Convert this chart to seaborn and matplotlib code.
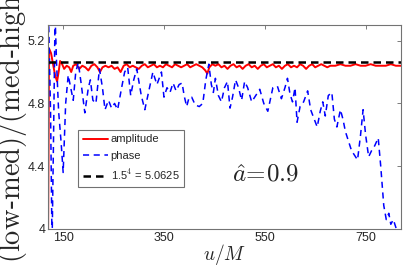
import matplotlib
matplotlib.use('Agg')
import matplotlib.pyplot as plt
import seaborn as sns
import pandas as pd
import numpy as np

# amplitude ratio (red, solid)
amp_u = [120, 122, 126, 130, 134, 138, 141, 144, 148, 152, 157, 162, 166, 170, 176, 182, 188, 194, 200,
         206, 212, 218, 223, 228, 234, 240, 246, 252, 258, 264, 270, 276, 282, 288, 294, 300, 306, 312,
         318, 324, 330, 336, 342, 348, 354, 360, 366, 372, 378, 384, 390, 396, 402, 408, 414, 420, 426,
         432, 436, 440, 446, 452, 458, 464, 470, 476, 482, 488, 494, 500, 506, 512, 518, 524, 530, 536,
         542, 548, 554, 560, 566, 572, 578, 584, 590, 596, 602, 608, 614, 620, 626, 632, 638, 644, 650,
         656, 662, 668, 674, 680, 690, 700, 710, 720, 730, 740, 750, 760, 770, 780, 790, 800, 810, 820]
amp_v = [3.90, 5.15, 5.12, 5.05, 4.98, 4.94, 5.00, 5.07, 5.05, 5.02, 5.04, 5.03, 5.00, 5.04, 5.05, 5.02,
         5.04, 5.03, 5.01, 5.04, 5.05, 5.03, 5.00, 5.03, 5.04, 5.03, 5.04, 5.02, 5.03, 5.00, 5.04, 5.05,
         5.03, 5.04, 5.03, 5.02, 5.04, 5.05, 5.03, 5.04, 5.05, 5.03, 5.04, 5.03, 5.05, 5.04, 5.03, 5.05,
         5.04, 5.03, 5.04, 5.05, 5.03, 5.04, 5.05, 5.04, 5.03, 5.01, 4.99, 5.03, 5.05, 5.04, 5.05, 5.03,
         5.04, 5.02, 5.04, 5.05, 5.03, 5.04, 5.02, 5.04, 5.05, 5.03, 5.04, 5.02, 5.04, 5.05, 5.03, 5.04,
         5.05, 5.03, 5.04, 5.02, 5.04, 5.05, 5.03, 5.04, 5.03, 5.05, 5.04, 5.02, 5.04, 5.05, 5.03, 5.04,
         5.05, 5.04, 5.03, 5.04, 5.04, 5.05, 5.04, 5.04, 5.05, 5.04, 5.04, 5.05, 5.04, 5.04, 5.04, 5.05,
         5.04, 5.04]

# phase ratio (blue, dashed)
ph_u = [121, 125, 128, 131, 134, 137, 141, 146, 150, 155, 160, 165, 170, 175, 180, 186, 193, 200, 204,
        209, 215, 222, 228, 233, 240, 246, 252, 258, 266, 272, 278, 284, 290, 296, 305, 312, 320, 328,
        336, 345, 350, 356, 362, 368, 374, 380, 386, 390, 395, 400, 405, 412, 420, 427, 433, 439, 444,
        448, 452, 458, 464, 470, 476, 481, 486, 492, 498, 504, 510, 516, 524, 532, 540, 548, 556, 566,
        575, 583, 590, 595, 600, 605, 610, 614, 620, 627, 635, 641, 648, 654, 660, 665, 670, 676, 683,
        688, 693, 700, 705, 710, 716, 722, 728, 734, 740, 745, 750, 756, 762, 768, 775, 780, 786, 791,
        796, 800, 805, 811]
ph_v = [5.36, 4.75, 3.90, 4.60, 5.36, 5.05, 4.75, 4.55, 4.36, 4.80, 4.98, 4.90, 4.82, 5.00, 5.06, 4.92,
        4.74, 4.90, 4.95, 4.82, 4.80, 5.02, 4.90, 4.76, 4.82, 4.77, 4.80, 4.76, 4.90, 5.00, 5.03, 4.85,
        4.95, 5.02, 4.85, 4.76, 4.88, 5.00, 4.92, 5.00, 4.84, 4.90, 4.87, 4.93, 4.88, 4.92, 4.93, 4.85,
        4.78, 4.84, 4.84, 4.79, 4.78, 4.80, 4.95, 5.05, 4.92, 4.87, 4.96, 4.85, 4.81, 4.90, 4.94, 4.77,
        4.84, 4.95, 4.90, 4.82, 4.94, 4.90, 4.81, 4.85, 4.89, 4.80, 4.75, 4.90, 4.91, 4.83, 4.90, 4.96,
        4.86, 4.81, 4.90, 4.68, 4.78, 4.81, 4.88, 4.76, 4.70, 4.65, 4.75, 4.81, 4.72, 4.85, 4.87, 4.70,
        4.65, 4.76, 4.70, 4.62, 4.56, 4.50, 4.47, 4.44, 4.60, 4.76, 4.60, 4.46, 4.50, 4.53, 4.58, 4.40,
        4.15, 4.06, 4.10, 4.03, 4.06, 4.00]

ref_value = 5.0625
x_ticks = [150, 350, 550, 750]
y_ticks = [4, 4.4, 4.8, 5.2]
y_ticklabels = ['4', '4.4', '4.8', '5.2']

sns.set_style('white')
plt.rcParams['font.family'] = ['Liberation Sans', 'DejaVu Sans']
plt.rcParams['mathtext.fontset'] = 'cm'

fig = plt.figure(figsize=(4.07, 2.71), dpi=100)
ax = fig.add_axes([0.118, 0.155, 0.867, 0.753])

amp_df = pd.DataFrame({'u': amp_u, 'ratio': amp_v})
ph_df = pd.DataFrame({'u': ph_u, 'ratio': ph_v})

sns.lineplot(data=amp_df, x='u', y='ratio', ax=ax, color='red', lw=1.4, label='amplitude')
sns.lineplot(data=ph_df, x='u', y='ratio', ax=ax, color='blue', lw=1.1,
             linestyle=(0, (4, 3)), label='phase')
ax.axhline(ref_value, color='black', lw=1.8, linestyle=(0, (3, 2)), label=r'1.5$^4$ = 5.0625')

ax.set_xlim(120, 820)
ax.set_ylim(4, 5.3)
ax.set_xticks(x_ticks)
ax.set_yticks(y_ticks)
ax.set_yticklabels(y_ticklabels)
ax.tick_params(direction='in', length=3, width=0.6, color='0.4', labelsize=9, pad=2,
               top=True, right=True)
for s in ax.spines.values():
    s.set_color('0.45')
    s.set_linewidth(0.8)

ax.set_xlabel(r'$u/M$', fontsize=14, labelpad=-1)
ax.set_ylabel('')
# long label, clipped by the top edge as in the source figure
fig.text(0.029, 0.03, r'$\mathrm{(low}$-$\mathrm{med)/(med}$-$\mathrm{high)}$', rotation=90,
         ha='center', va='bottom', fontsize=20.5, family='DejaVu Serif')
ax.text(552, 4.35, r'$\hat{a}\!=\!0.9$', fontsize=18, ha='center', va='center')

leg = ax.legend(loc='upper left', bbox_to_anchor=(0.086, 0.485), fontsize=8, handlelength=2.3,
                handletextpad=0.2, borderpad=0.4, labelspacing=0.6, frameon=True, fancybox=False,
                borderaxespad=0)
leg.get_frame().set_edgecolor('0.3')
leg.get_frame().set_linewidth(0.8)

fig.savefig('out.png', dpi=100)
